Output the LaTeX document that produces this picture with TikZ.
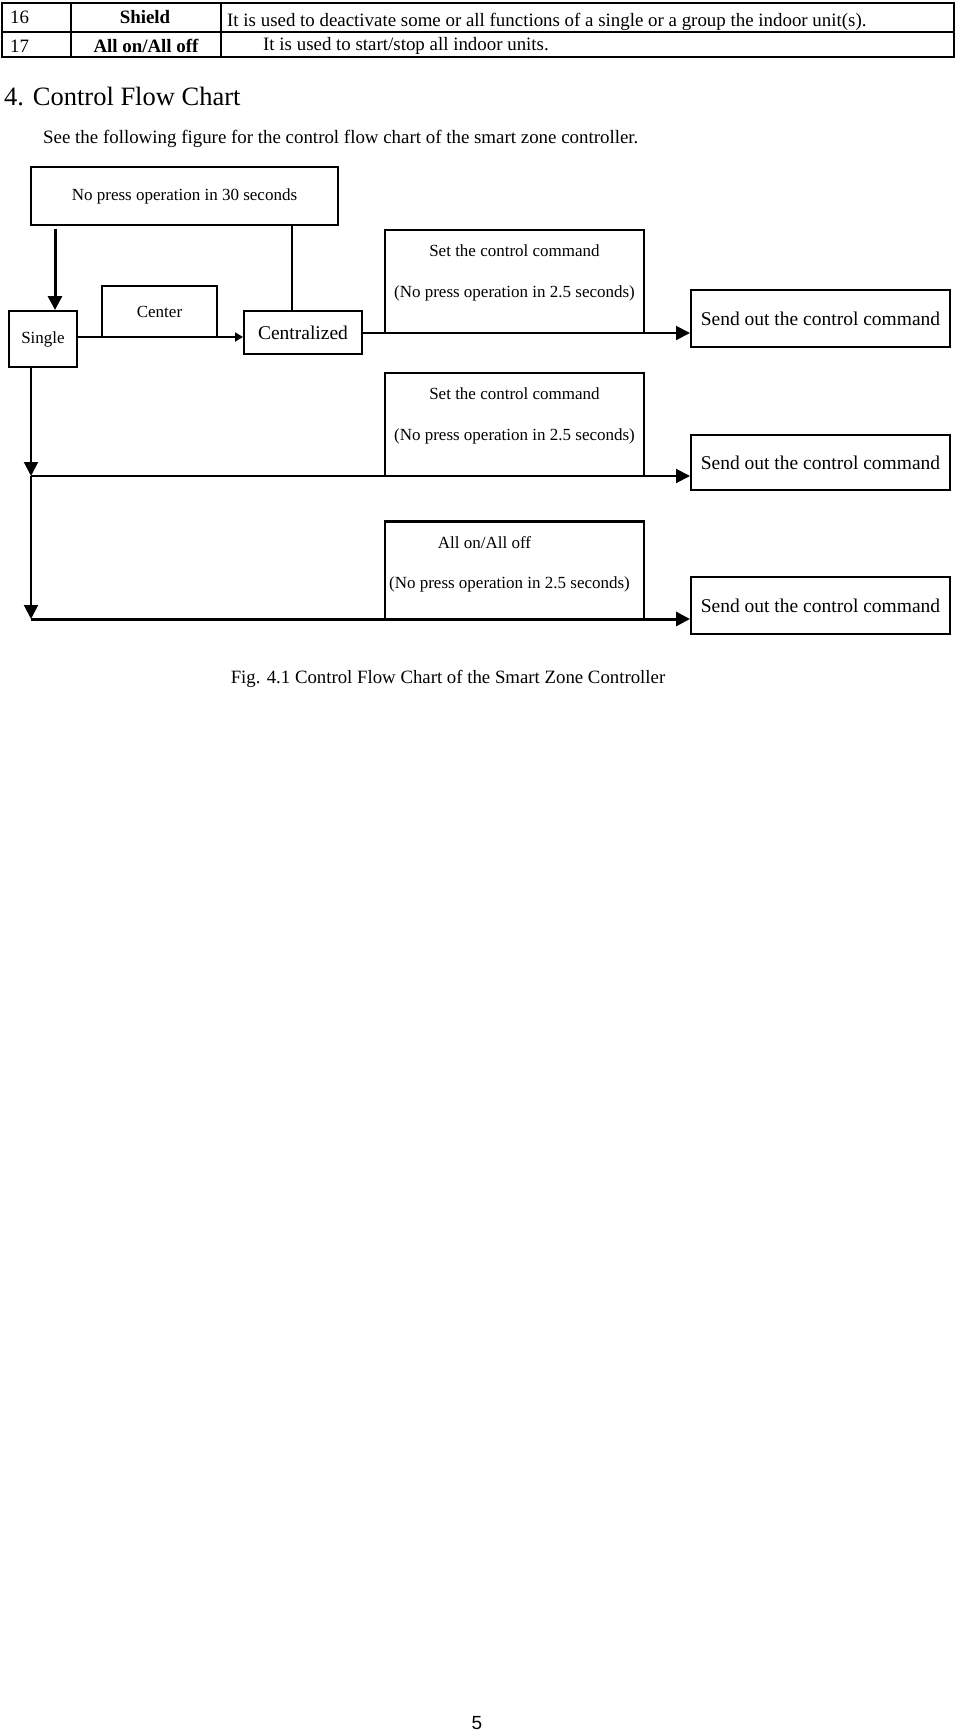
\documentclass[tikz,border=0pt]{standalone}
\usepackage{fontspec}
\setmainfont{Liberation Serif}
\newfontfamily\pagefont{Liberation Sans}
\usetikzlibrary{arrows.meta,positioning,calc}

\tikzset{
  box/.style={draw, line width=2pt, inner sep=0pt, font=\fontsize{17}{19}\selectfont},
  bigtext/.style={font=\fontsize{19.5}{22}\selectfont},
  boxtext/.style={inner sep=0pt, font=\fontsize{17}{19}\selectfont},
  tabline/.style={line width=1.8pt},
  tabtext/.style={inner sep=0pt, font=\fontsize{18.9}{21}\selectfont},
  tabbold/.style={inner sep=0pt, font=\fontsize{18.9}{21}\selectfont\bfseries},
  flow/.style={line width=2pt},
  heavy/.style={line width=3pt},
  bigtip/.style={-{Triangle[length=14pt,width=14pt]}},
  smalltip/.style={-{Triangle[length=8pt,width=9pt]}}
}

\begin{document}
\begin{tikzpicture}[x=1pt,y=-1pt]
  \useasboundingbox (0,0) rectangle (960,1734);

  % table rows 16 and 17
  \draw[tabline] (2,3) rectangle (954,57);
  \draw[tabline] (2,32) -- (954,32);
  \draw[tabline] (71,3) -- (71,57);
  \draw[tabline] (221,3) -- (221,57);
  \node[tabtext, anchor=west] (no16) at (10,17) {16};
  \node[tabbold] (shield) at (145,17) {Shield};
  \node[tabtext, anchor=west] (desc16) at (227,22) {It is used to deactivate some or all functions of a single or a group the indoor unit(s).};
  \node[tabtext, anchor=west] (no17) at (10,46) {17};
  \node[tabbold] (allon) at (146,46) {All on/All off};
  \node[tabtext, anchor=west] (desc17) at (263,46) {It is used to start/stop all indoor units.};

  % heading and intro
  \node[inner sep=0pt, anchor=west, font=\fontsize{26.5}{30}\selectfont] (heading) at (4,96) {4. Control Flow Chart};
  \node[tabtext, anchor=west] (intro) at (43,139) {See the following figure for the control flow chart of the smart zone controller.};

  % flow chart boxes
  \node[box, minimum width=307pt, minimum height=58pt] (wait) at (184.5,196) {No press operation in 30 seconds};
  \node[box, minimum width=68pt, minimum height=56pt] (single) at (43,339) {Single};
  \node[box, minimum width=115pt, minimum height=51pt] (center) at (159.5,311.5) {Center};
  \node[box, bigtext, minimum width=118pt, minimum height=43pt] (central) at (303,332.5) {Centralized};

  \node[box, minimum width=259pt, minimum height=103pt] (set1) at (514.5,281.5) {};
  \node[boxtext] (set1a) at ($(set1.north)+(0,22)$) {Set the control command};
  \node[boxtext] (set1b) at ($(set1.north)+(0,64)$) {(No press operation in 2.5 seconds)};
  \node[box, bigtext, minimum width=259pt, minimum height=57pt] (send1) at (820.5,318.5) {Send out the control command};

  \node[box, minimum width=259pt, minimum height=103pt] (set2) at (514.5,424.5) {};
  \node[boxtext] (set2a) at ($(set2.north)+(0,22)$) {Set the control command};
  \node[boxtext] (set2b) at ($(set2.north)+(0,64)$) {(No press operation in 2.5 seconds)};
  \node[box, bigtext, minimum width=259pt, minimum height=55pt] (send2) at (820.5,462.5) {Send out the control command};

  \node[box, minimum width=259pt, minimum height=97pt] (set3) at (514.5,570.5) {};
  \draw[heavy] (set3.north west) -- (set3.north east);
  \node[boxtext] (set3a) at ($(set3.north)+(-30,22)$) {All on/All off};
  \node[boxtext] (set3b) at ($(set3.north)+(-5,63)$) {(No press operation in 2.5 seconds)};
  \node[box, bigtext, minimum width=259pt, minimum height=57pt] (send3) at (820.5,605.5) {Send out the control command};

  % connectors
  \coordinate (drop) at (55,0);
  \coordinate (riser) at (292,0);
  \coordinate (rail) at (31,0);
  \coordinate (row1) at (0,337);
  \coordinate (row2) at (0,333);
  \coordinate (row3) at (0,476);
  \coordinate (row4) at (0,619);
  \draw[heavy, bigtip, shorten <=3pt] (wait.south -| drop) -- (single.north -| drop);
  \draw[flow] (wait.south -| riser) -- (central.north -| riser);
  \draw[flow, smalltip] (single.east |- row1) -- (central.west |- row1);
  \draw[flow, bigtip] (central.east |- row2) -- (send1.west |- row2);
  \draw[flow, bigtip] (single.south -| rail) -- (rail |- row3);
  \draw[flow, bigtip] (rail |- row3) -- (rail |- row4);
  \draw[flow, bigtip] (rail |- row3) -- (send2.west |- row3);
  \draw[heavy, bigtip] (rail |- row4) -- (send3.west |- row4);

  % caption and page number
  \node[inner sep=0pt, font=\fontsize{18.8}{21}\selectfont] (caption) at (448,679) {Fig. 4.1 Control Flow Chart of the Smart Zone Controller};
  \node[inner sep=0pt, font=\pagefont\fontsize{19}{21}\selectfont] (pageno) at (477,1723) {5};
\end{tikzpicture}
\end{document}
